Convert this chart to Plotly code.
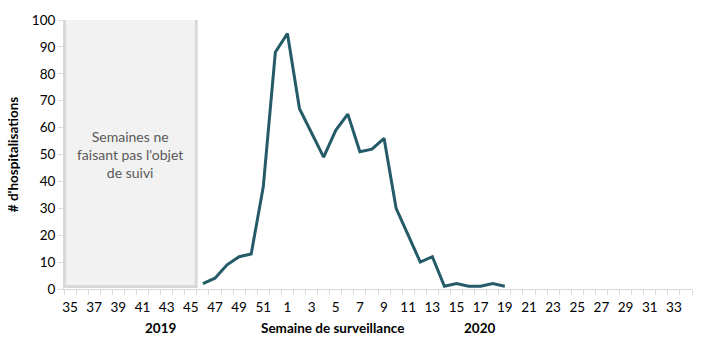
import plotly.graph_objects as go

# Weeks of surveillance: 2019 weeks 35-52, 2020 weeks 1-34
weeks_2019 = list(range(35, 53))
weeks_2020 = list(range(1, 35))
week_labels = [str(w) for w in weeks_2019 + weeks_2020]

# Hospitalisations from week 46 (2019) to week 19 (2020)
data_weeks = ["46", "47", "48", "49", "50", "51", "52",
              "1", "2", "3", "4", "5", "6", "7", "8", "9", "10",
              "11", "12", "13", "14", "15", "16", "17", "18", "19"]
hospitalisations = [2, 4, 9, 12, 13, 38, 88,
                    95, 67, 58, 49, 59, 65, 51, 52, 56, 30,
                    20, 10, 12, 1, 2, 1, 1, 2, 1]

# Unmonitored weeks (shaded box)
unmonitored_first, unmonitored_last = "35", "45"
box_text = "Semaines ne<br>faisant pas l'objet<br>de suivi"

y_ticks = list(range(0, 101, 10))

idx = {lab: i for i, lab in enumerate(week_labels)}
x_vals = [idx[w] for w in data_weeks]

FONT = "Lato, 'Open Sans', Arial, sans-serif"

fig = go.Figure()

fig.add_shape(type="rect", xref="x", yref="y",
              x0=idx[unmonitored_first] - 0.45, x1=idx[unmonitored_last] + 0.45,
              y0=0.9, y1=100.8,
              fillcolor="#f2f2f2", line=dict(color="#d9d9d9", width=3),
              layer="below")

fig.add_annotation(x=(idx[unmonitored_first] + idx[unmonitored_last]) / 2, y=50,
                   xref="x", yref="y", text=box_text, showarrow=False,
                   font=dict(family=FONT, size=14, color="#595959"), align="center")

fig.add_trace(go.Scatter(x=x_vals, y=hospitalisations, mode="lines",
                         line=dict(color="#255a69", width=3),
                         hoverinfo="skip"))

even_idx = list(range(0, len(week_labels), 2))
fig.update_xaxes(range=[-0.5, len(week_labels) - 0.5],
                 tickvals=even_idx, ticktext=[week_labels[i] for i in even_idx],
                 ticks="", showgrid=False, zeroline=False,
                 showline=True, linecolor="#d9d9d9", linewidth=1,
                 ticklabelstandoff=6,
                 tickfont=dict(family=FONT, size=13.5, color="#000000"),
                 minor=dict(tickvals=[i - 0.5 for i in range(len(week_labels) + 1)],
                            ticks="outside", ticklen=5, tickcolor="#d9d9d9",
                            showgrid=False))
fig.update_yaxes(range=[0, 100], tickvals=y_ticks, ticks="outside", ticklen=5,
                 tickcolor="#d9d9d9", showgrid=False, zeroline=False,
                 showline=True, linecolor="#d9d9d9", linewidth=1,
                 tickfont=dict(family=FONT, size=13.5, color="#000000"),
                 title=dict(text="<b># d'hospitalisations</b>",
                            font=dict(family=FONT, size=13.5, color="#000000"),
                            standoff=10))

for txt, px in [("2019", 142), ("Semaine de surveillance", 332), ("2020", 497)]:
    fig.add_annotation(x=(px - 63) / 629, y=-0.145, xref="paper", yref="paper",
                       text=f"<b>{txt}</b>", showarrow=False, yanchor="middle",
                       font=dict(family=FONT, size=13.5, color="#000000"))

fig.update_layout(width=708, height=348,
                  margin=dict(l=63, r=16, t=16, b=59),
                  plot_bgcolor="white", paper_bgcolor="white",
                  showlegend=False)

fig.write_html("out.html")
